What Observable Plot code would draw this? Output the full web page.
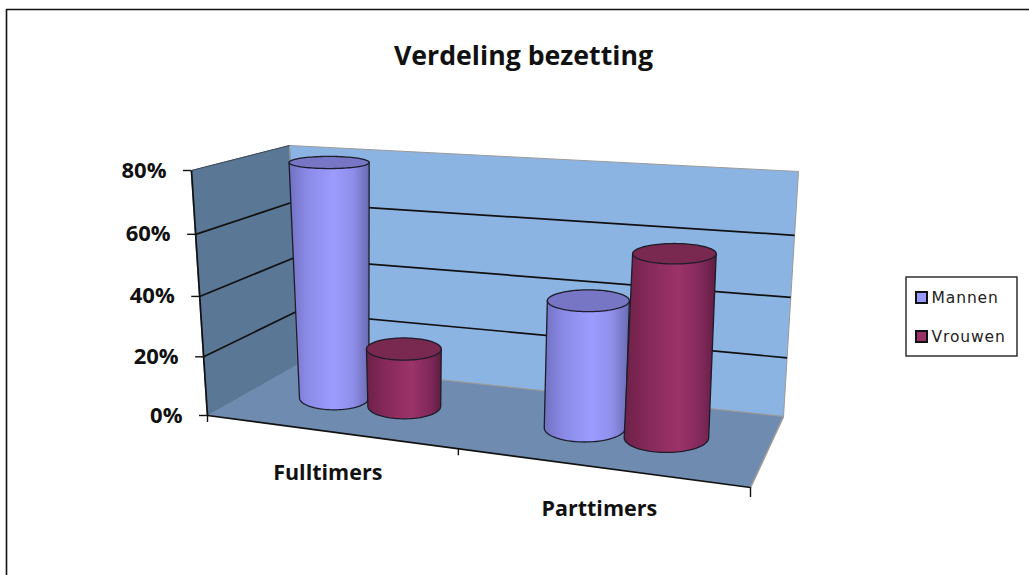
<!DOCTYPE html>
<html>
<head>
<meta charset="utf-8">
<script src="https://cdn.jsdelivr.net/npm/d3@7"></script>
<script src="https://cdn.jsdelivr.net/npm/@observablehq/plot@0.6"></script>
<style>
html,body{margin:0;padding:0;background:#fff;}
</style>
</head>
<body>
<div id="chart"></div>
<script>
const title = "Verdeling bezetting";
const categories = ["Fulltimers", "Parttimers"];
const mannen = [0.8, 0.42];
const vrouwen = [0.2, 0.59];
const tickValues = [0, 0.2, 0.4, 0.6, 0.8];
const tickLabels = ["0%", "20%", "40%", "60%", "80%"];
const seriesNames = ["Mannen", "Vrouwen"];

// Perspective box of the 3D chart (screen position of its eight corners)
const yMax = 0.8;
const box = {
  fbl: [207, 415], fbr: [750, 487], bbl: [297, 364], bbr: [783, 416],
  ftl: [191, 170], ftr: [767, 213], btl: [289, 145], btr: [798, 171]
};
const mix = (a, b, t) => [a[0] + (b[0] - a[0]) * t, a[1] + (b[1] - a[1]) * t];
const warp = (t, k) => t * (1 - k * (1 - t));
const warpU = (u) => warp(u, 0.152);
const warpW = (val) => warp(val / yMax, 0.056);
function raw(uu, v, ww) {
  const bot = mix(mix(box.fbl, box.fbr, uu), mix(box.bbl, box.bbr, uu), v);
  const top = mix(mix(box.ftl, box.ftr, uu), mix(box.btl, box.btr, uu), v);
  return mix(bot, top, ww);
}
const P = (u, v, val) => raw(warpU(u), v, warpW(val));
const pt = (p, id) => ({x: p[0], y: p[1], id});

function poly(id, pts) { return pts.map((p) => pt(p, id)); }

const backWall = poly("back", [box.bbl, box.bbr, box.btr, box.btl]);
const leftWall = poly("left", [box.fbl, box.bbl, box.btl, box.ftl]);
const floor = poly("floor", [box.fbl, box.fbr, box.bbr, box.bbl]);

// cylinder geometry
const depth = 0.53, halfBar = 0.075, depthR = 0.22, groupOff = 0.074;
function ellipseAt(u, val) {
  const c = P(u, depth, val);
  const ww = warpW(val), uu = warpU(u);
  const dx = raw(uu + 0.01, depth, ww)[0] - raw(uu - 0.01, depth, ww)[0];
  const dudU = warpU(u + 0.01) - warpU(u - 0.01);
  const dy = Math.abs(raw(uu, depth + 0.01, ww)[1] - raw(uu, depth - 0.01, ww)[1]) / 0.02;
  const flare = 1 + ww * (0.14 - 0.25 * u);
  return {
    cx: c[0] + ww * (1 - u) * 3,
    cy: c[1],
    rx: dx / 0.02 * dudU / 0.02 * halfBar * flare,
    ry: dy * depthR
  };
}
const angles = d3.range(0, 49).map((i) => i / 48);
function cylinder(u, val, id) {
  const b = ellipseAt(u, 0), t = ellipseAt(u, val);
  const body = angles.map((a) => {
    const th = Math.PI * (1 - a);
    return {x: b.cx + b.rx * Math.cos(th), y: b.cy + b.ry * Math.sin(th), id};
  });
  body.push({x: t.cx + t.rx, y: t.cy, id}, {x: t.cx - t.rx, y: t.cy, id});
  const cap = angles.concat(angles.map((a) => a + 1)).map((a) => ({
    x: t.cx + t.rx * Math.cos(Math.PI * a),
    y: t.cy + t.ry * Math.sin(Math.PI * a),
    id
  }));
  return {body, cap};
}
const catU = (i) => (i + 0.5) / categories.length;
const cylMannen = mannen.map((v, i) => cylinder(catU(i) - groupOff, v, "m" + i));
const cylVrouwen = vrouwen.map((v, i) => cylinder(catU(i) + groupOff, v, "v" + i));
// Draw order: by category, mannen behind vrouwen
const cyls = [];
categories.forEach((c, i) => {
  cyls.push({...cylMannen[i], fill: "url(#gradBlue)", capFill: "#7676c4"});
  cyls.push({...cylVrouwen[i], fill: "url(#gradRed)", capFill: "#79284f"});
});

const grid = tickValues.slice(1, -1).flatMap((t) => [
  {x1: P(0, 0, t)[0], y1: P(0, 0, t)[1], x2: P(0, 1, t)[0], y2: P(0, 1, t)[1]},
  {x1: P(0, 1, t)[0], y1: P(0, 1, t)[1], x2: P(1, 1, t)[0], y2: P(1, 1, t)[1]}
]);
const ticksY = tickValues.map((t, i) => {
  const p = P(0, 0, t);
  return {x1: p[0] - 8, x2: p[0], y: p[1], label: tickLabels[i]};
});
const tickU = [0, 0.5, 1];
const ticksX = tickU.map((u) => {
  const p = P(u, 0, 0);
  return {x: p[0], y1: p[1], y2: p[1] + (u === 1 ? 10 : 7)};
});
const catLabels = categories.map((c, i) => {
  const p = P(catU(i), 0, 0);
  return {x: p[0], y: p[1] + 42, label: c};
});

const gradients = () => {
  const defs = d3.create("svg:defs");
  const add = (id, stops) => {
    const g = defs.append("linearGradient").attr("id", id)
      .attr("x1", 0).attr("x2", 1).attr("y1", 0).attr("y2", 0);
    stops.forEach(([o, c]) => g.append("stop").attr("offset", o).attr("stop-color", c));
  };
  add("gradBlue", [[0, "#7070c0"], [0.2, "#8888e4"], [0.55, "#9c9cff"], [0.8, "#8e8eea"], [1, "#6a6ab0"]]);
  add("gradRed", [[0, "#6c2147"], [0.25, "#86295a"], [0.6, "#9c3368"], [0.85, "#80285a"], [1, "#5f1d40"]]);
  return defs.node();
};

const fillPoly = (data, fill, stroke, sw) => Plot.line(data, {
  x: "x", y: "y", z: "id", fill, stroke: stroke || "none", strokeWidth: sw || 1, curve: "linear-closed"
});

const plot = Plot.plot({
  width: 1029, height: 575,
  marginTop: 0, marginRight: 0, marginBottom: 0, marginLeft: 0,
  style: {background: "#fff", overflow: "visible"},
  x: {domain: [0, 1029], range: [0, 1029], axis: null},
  y: {domain: [0, 575], range: [0, 575], axis: null},
  marks: [
    gradients,
    // chart frame (top and left only)
    Plot.line([{x: 6, y: 575}, {x: 6, y: 9}, {x: 1029, y: 9}], {x: "x", y: "y", stroke: "#111", strokeWidth: 1.6}),
    fillPoly(backWall, "#8cb4e2", "#9a9a9a"),
    fillPoly(leftWall, "#5b7796", "#5b7796"),
    fillPoly(floor, "#6f8cb0", "none"),
    Plot.link([[box.btl, box.bbl], [box.bbl, box.bbr]], {
      x1: (d) => d[0][0], y1: (d) => d[0][1], x2: (d) => d[1][0], y2: (d) => d[1][1],
      stroke: "#9a9a9a", strokeWidth: 1
    }),
    Plot.link([[box.ftl, box.btl]], {
      x1: (d) => d[0][0], y1: (d) => d[0][1], x2: (d) => d[1][0], y2: (d) => d[1][1],
      stroke: "#3d4a58", strokeWidth: 1
    }),
    Plot.link(grid, {x1: "x1", y1: "y1", x2: "x2", y2: "y2", stroke: "#111", strokeWidth: 1.7}),
    Plot.link([[box.ftl, box.fbl], [box.fbl, box.fbr], [box.fbr, box.bbr]], {
      x1: (d) => d[0][0], y1: (d) => d[0][1], x2: (d) => d[1][0], y2: (d) => d[1][1],
      stroke: (d, i) => (i === 2 ? "#9a9a9a" : "#111"), strokeWidth: 1.7
    }),
    Plot.ruleY(ticksY, {y: "y", x1: "x1", x2: "x2", stroke: "#111", strokeWidth: 1.4}),
    Plot.ruleX(ticksX, {x: "x", y1: "y1", y2: "y2", stroke: "#111", strokeWidth: 1.4}),
    ...cyls.flatMap((c) => [
      fillPoly(c.body, c.fill, "#1c1c2a", 1.3),
      fillPoly(c.cap, c.capFill, "#1c1c2a", 1.3)
    ]),
    Plot.text(ticksY, {
      x: "x1", y: "y", text: "label", dx: -17, textAnchor: "end",
      fontFamily: "Open Sans", fontWeight: 700, fontSize: 22, fill: "#111"
    }),
    Plot.text(catLabels, {
      x: "x", y: "y", text: "label",
      fontFamily: "Open Sans", fontWeight: 700, fontSize: 21.5, fill: "#111"
    }),
    Plot.text([title], {
      x: () => 523, y: () => 56, text: (d) => d,
      fontFamily: "Open Sans", fontWeight: 700, fontSize: 26.7, fill: "#111"
    }),
    // legend
    Plot.rect([0], {x1: () => 906, x2: () => 1017, y1: () => 277, y2: () => 356, fill: "#fff", stroke: "#222", strokeWidth: 1.4}),
    Plot.rect(seriesNames, {
      x1: () => 916, x2: () => 927,
      y1: (d, i) => 292 + i * 39, y2: (d, i) => 303 + i * 39,
      fill: (d, i) => (i === 0 ? "#9999ff" : "#993366"), stroke: "#111", strokeWidth: 2
    }),
    Plot.text(seriesNames, {
      x: () => 931, y: (d, i) => 298 + i * 39, text: (d) => d, textAnchor: "start",
      fontFamily: "DejaVu Sans", fontSize: 15.5, fill: "#222"
    })
  ]
});
d3.select(plot).selectAll("text")
  .filter(function () { return seriesNames.includes(this.textContent); })
  .style("letter-spacing", "0.9px");
document.getElementById("chart").appendChild(plot);
</script>
</body>
</html>
